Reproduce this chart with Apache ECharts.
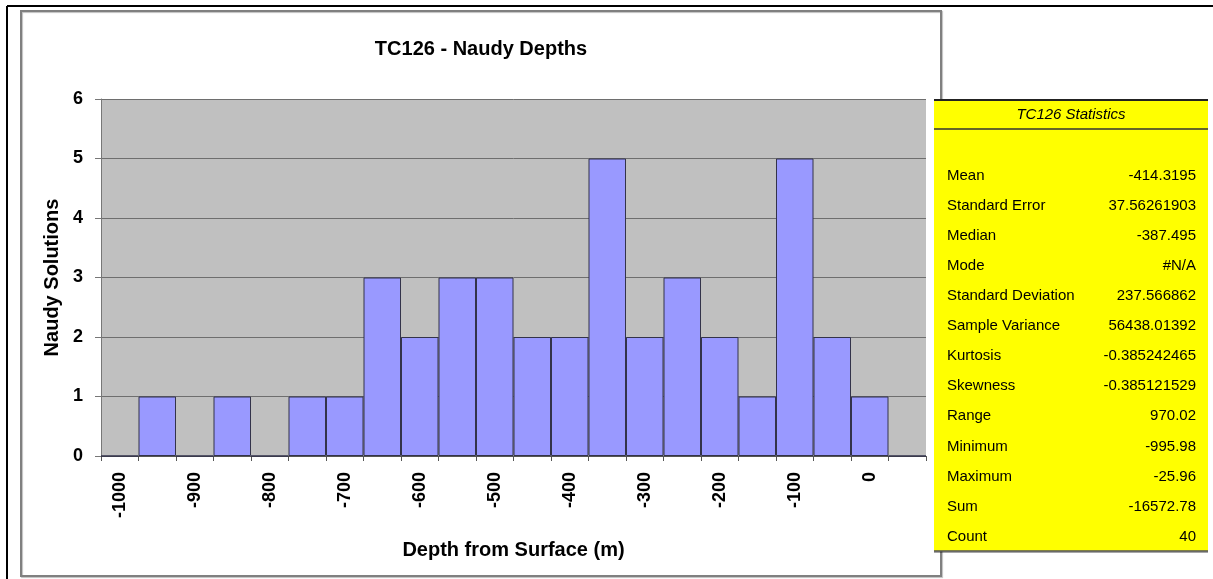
<!DOCTYPE html>
<html>
<head>
<meta charset="utf-8">
<script src="https://cdn.jsdelivr.net/npm/echarts@6/dist/echarts.min.js"></script>
<style>
  html, body { margin: 0; padding: 0; background: #fff; }
  #chart { width: 1213px; height: 579px; }
</style>
</head>
<body>
<div id="chart"></div>
<script>
// bins of 50 m, labelled every other bin
const depthBins = ['-1000', '-950', '-900', '-850', '-800', '-750', '-700', '-650', '-600', '-550', '-500',
  '-450', '-400', '-350', '-300', '-250', '-200', '-150', '-100', '-50', '0', '50'];
const solutionCounts = [0, 1, 0, 1, 0, 1, 1, 3, 2, 3, 3, 2, 2, 5, 2, 3, 2, 1, 5, 2, 1, 0];

const statsTitle = 'TC126 Statistics';
const statNames = ['Mean', 'Standard Error', 'Median', 'Mode', 'Standard Deviation', 'Sample Variance',
  'Kurtosis', 'Skewness', 'Range', 'Minimum', 'Maximum', 'Sum', 'Count'];
const statValues = ['-414.3195', '37.56261903', '-387.495', '#N/A', '237.566862', '56438.01392',
  '-0.385242465', '-0.385121529', '970.02', '-995.98', '-25.96', '-16572.78', '40'];

const FONT = '"Liberation Sans", Arial, sans-serif';

const chart = echarts.init(document.getElementById('chart'));

// stats box drawn as graphic elements
const tableEls = [
  { type: 'rect', shape: { x: 934, y: 99, width: 274, height: 452 },
    style: { fill: '#ffff00', shadowColor: 'rgba(0,0,0,0.35)', shadowOffsetX: 0, shadowOffsetY: 2, shadowBlur: 0 }, z: 10 },
  { type: 'line', shape: { x1: 934, y1: 100, x2: 1208, y2: 100 }, style: { stroke: '#222', lineWidth: 2 }, z: 11 },
  { type: 'line', shape: { x1: 934, y1: 129, x2: 1208, y2: 129 }, style: { stroke: '#333', lineWidth: 1.5 }, z: 11 },
  { type: 'line', shape: { x1: 934, y1: 551, x2: 1208, y2: 551 }, style: { stroke: '#555', lineWidth: 1.5 }, z: 11 },
  { type: 'text', x: 1071, y: 115, z: 11,
    style: { text: statsTitle, font: 'italic 15px ' + FONT, fill: '#000', align: 'center', verticalAlign: 'middle' } }
];
statNames.forEach((name, i) => {
  const y = 175.5 + i * 30.1;
  tableEls.push({ type: 'text', x: 947, y: y, z: 11,
    style: { text: name, font: '15px ' + FONT, fill: '#000', align: 'left', verticalAlign: 'middle' } });
  tableEls.push({ type: 'text', x: 1196, y: y, z: 11,
    style: { text: statValues[i], font: '15px ' + FONT, fill: '#000', align: 'right', verticalAlign: 'middle' } });
});

chart.setOption({
  animation: false,
  backgroundColor: '#fff',
  title: {
    text: 'TC126 - Naudy Depths', left: 476, top: 34, textAlign: 'center',
    textStyle: { fontFamily: FONT, fontSize: 20, fontWeight: 'bold', color: '#000' }
  },
  grid: { left: 101, top: 99, width: 825, height: 357, show: true, backgroundColor: '#c0c0c0', borderWidth: 0 },
  xAxis: {
    type: 'category',
    data: depthBins,
    name: 'Depth from Surface (m)',
    nameLocation: 'middle',
    nameGap: 84,
    nameTextStyle: { fontFamily: FONT, fontSize: 20, fontWeight: 'bold', color: '#000' },
    axisLine: { lineStyle: { color: '#555', width: 1 } },
    axisTick: { show: true, interval: 0, length: 5, lineStyle: { color: '#555' } },
    axisLabel: { interval: 1, rotate: 90, margin: 16, fontFamily: FONT, fontSize: 18, fontWeight: 'bold', color: '#000' }
  },
  yAxis: {
    type: 'value',
    min: 0, max: 6, interval: 1,
    name: 'Naudy Solutions',
    nameLocation: 'middle',
    nameGap: 37,
    nameTextStyle: { fontFamily: FONT, fontSize: 20, fontWeight: 'bold', color: '#000' },
    axisLine: { show: true, lineStyle: { color: '#777', width: 1 } },
    axisTick: { show: true, length: 6, lineStyle: { color: '#777' } },
    axisLabel: { margin: 18, fontFamily: FONT, fontSize: 18, fontWeight: 'bold', color: '#000' },
    splitLine: { show: true, lineStyle: { color: '#6e6e6e', width: 1 } }
  },
  series: [{
    type: 'bar',
    data: solutionCounts,
    barCategoryGap: '0%',
    itemStyle: { color: '#9999ff', borderColor: '#33334a', borderWidth: 1 }
  }],
  graphic: [
    // page lines and chart frame
    { type: 'line', shape: { x1: 7, y1: 6, x2: 1213, y2: 6 }, style: { stroke: '#000', lineWidth: 2 }, z: 5 },
    { type: 'line', shape: { x1: 7, y1: 6, x2: 7, y2: 579 }, style: { stroke: '#000', lineWidth: 2 }, z: 5 },
    { type: 'rect', shape: { x: 21, y: 11, width: 920, height: 565 },
      style: { fill: 'none', stroke: '#808080', lineWidth: 2, shadowColor: 'rgba(0,0,0,0.25)', shadowOffsetX: 1, shadowOffsetY: 1, shadowBlur: 1 }, z: 5 }
  ].concat(tableEls)
});
</script>
</body>
</html>
